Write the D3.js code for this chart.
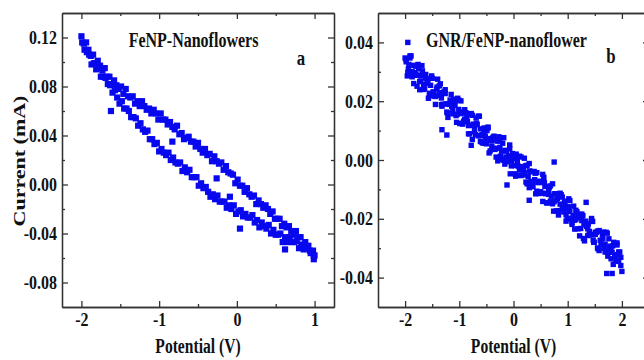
<!DOCTYPE html>
<html>
<head>
<meta charset="utf-8">
<script src="https://cdn.jsdelivr.net/npm/d3@7"></script>
<style>
  body { margin: 0; background: #fff; }
  text { font-family: "Liberation Serif", "Times New Roman", serif; font-weight: bold; fill: #111; }
</style>
</head>
<body>
<svg id="chart" width="644" height="360"></svg>
<script>
// ---- data (potential V, current mA) ----
// panel a: FeNP-nanoflowers, the two branches of the loop
var loopA_upper = [
  [-2.00,.121],[-1.97,.115],[-1.94,.116],[-1.91,.110],[-1.88,.105],[-1.85,.106],[-1.82,.099],[-1.79,.101],[-1.76,.097],[-1.73,.093],
  [-1.70,.095],[-1.67,.088],[-1.64,.088],[-1.61,.082],[-1.58,.085],[-1.55,.081],[-1.52,.078],[-1.49,.080],[-1.46,.074],[-1.43,.078],
  [-1.40,.072],[-1.37,.071],[-1.34,.072],[-1.31,.066],[-1.28,.068],[-1.25,.064],[-1.22,.068],[-1.19,.064],[-1.16,.061],[-1.13,.062],
  [-1.10,.058],[-1.07,.061],[-1.04,.058],[-1.01,.053],[-0.98,.058],[-0.95,.053],[-0.92,.053],[-0.89,.049],[-0.86,.051],[-0.83,.047],
  [-0.80,.045],[-0.77,.048],[-0.74,.041],[-0.71,.042],[-0.68,.037],[-0.65,.038],[-0.62,.039],[-0.59,.035],[-0.56,.035],[-0.53,.031],
  [-0.50,.034],[-0.47,.029],[-0.44,.026],[-0.41,.029],[-0.38,.024],[-0.35,.025],[-0.32,.019],[-0.29,.023],[-0.26,.019],[-0.23,.017],
  [-0.20,.018],[-0.17,.012],[-0.14,.015],[-0.11,.010],[-0.08,.009],[-0.05,.008],[-0.02,.001],[0.01,.004],[0.04,-.001],[0.07,-.001],
  [0.10,-.006],[0.13,-.003],[0.16,-.008],[0.19,-.010],[0.22,-.009],[0.25,-.016],[0.28,-.013],[0.31,-.016],[0.34,-.019],[0.37,-.017],
  [0.40,-.020],[0.43,-.024],[0.46,-.022],[0.49,-.028],[0.52,-.028],[0.55,-.028],[0.58,-.034],[0.61,-.032],[0.64,-.035],[0.67,-.034],
  [0.70,-.038],[0.73,-.041],[0.76,-.038],[0.79,-.043],[0.82,-.043],[0.85,-.050],[0.88,-.047],[0.91,-.051],[0.94,-.054],[0.97,-.055],
  [0.99,-.058]
];
var loopA_lower = [
  [-1.99,.116],[-1.96,.110],[-1.93,.108],[-1.90,.106],[-1.87,.098],[-1.84,.099],[-1.81,.094],[-1.78,.095],[-1.75,.088],[-1.72,.088],
  [-1.69,.087],[-1.66,.082],[-1.63,.081],[-1.60,.075],[-1.57,.077],[-1.54,.071],[-1.51,.066],[-1.48,.068],[-1.45,.062],[-1.42,.062],
  [-1.39,.060],[-1.36,.055],[-1.33,.055],[-1.30,.054],[-1.27,.048],[-1.24,.050],[-1.21,.045],[-1.18,.043],[-1.15,.044],[-1.12,.037],
  [-1.09,.037],[-1.06,.033],[-1.03,.034],[-1.00,.027],[-0.97,.029],[-0.94,.026],[-0.91,.024],[-0.88,.026],[-0.85,.020],[-0.82,.022],
  [-0.79,.018],[-0.76,.017],[-0.73,.018],[-0.70,.011],[-0.67,.014],[-0.64,.010],[-0.61,.012],[-0.58,.006],[-0.55,.006],[-0.52,.006],
  [-0.49,-.001],[-0.46,.001],[-0.43,-.003],[-0.40,-.002],[-0.37,-.006],[-0.34,-.010],[-0.31,-.008],[-0.28,-.012],[-0.25,-.009],[-0.22,-.014],
  [-0.19,-.014],[-0.16,-.014],[-0.13,-.019],[-0.10,-.017],[-0.07,-.020],[-0.04,-.017],[-0.01,-.024],[0.02,-.022],[0.05,-.021],[0.08,-.026],
  [0.11,-.024],[0.14,-.027],[0.17,-.027],[0.20,-.025],[0.23,-.031],[0.26,-.029],[0.29,-.035],[0.32,-.031],[0.35,-.034],[0.38,-.036],
  [0.41,-.033],[0.44,-.040],[0.47,-.037],[0.50,-.041],[0.53,-.041],[0.56,-.040],[0.59,-.047],[0.62,-.043],[0.65,-.047],[0.68,-.043],
  [0.71,-.047],[0.74,-.047],[0.77,-.046],[0.80,-.052],[0.83,-.049],[0.86,-.053],[0.89,-.052],[0.92,-.050],[0.95,-.056],[0.98,-.054],
  [1.00,-.058],[0.99,-.061]
];
var loopA_stray = [[-1.62,.060],[-0.83,.035],[-0.26,.005],[-0.09,-.010],[0.04,-.036],[0.62,-.053]];

// panel b: GNR/FeNP-nanoflower, three overlapping scans
var scanB_fwd = [
  [-2.00,.0347],[-1.96,.0286],[-1.93,.0325],[-1.89,.0354],[-1.86,.0288],[-1.82,.0297],[-1.78,.0251],[-1.75,.0310],[-1.71,.0269],[-1.68,.0303],
  [-1.64,.0242],[-1.60,.0276],[-1.57,.0210],[-1.53,.0254],[-1.50,.0278],[-1.46,.0217],[-1.42,.0241],[-1.39,.0220],[-1.35,.0259],[-1.32,.0183],
  [-1.28,.0232],[-1.24,.0191],[-1.21,.0145],[-1.17,.0204],[-1.14,.0183],[-1.10,.0207],[-1.06,.0151],[-1.03,.0210],[-0.99,.0124],[-0.96,.0163],
  [-0.92,.0132],[-0.88,.0161],[-0.85,.0130],[-0.81,.0089],[-0.78,.0158],[-0.74,.0122],[-0.70,.0086],[-0.67,.0120],[-0.63,.0149],[-0.60,.0083],
  [-0.56,.0057],[-0.52,.0081],[-0.49,.0100],[-0.45,.0024],[-0.42,.0073],[-0.38,.0077],[-0.34,.0036],[-0.31,.0040],[-0.27,.0079],[-0.24,.0013],
  [-0.20,.0057],[-0.16,-.0014],[-0.13,.0030],[-0.09,.0014],[-0.06,-.0047],[-0.02,.0022],[0.02,-.0019],[0.05,.0020],[0.09,-.0021],[0.12,-.0052],
  [0.16,-.0023],[0.20,.0006],[0.23,-.0075],[0.27,-.0056],[0.30,-.0037],[0.34,-.0078],[0.38,-.0039],[0.41,-.0115],[0.45,-.0076],[0.48,-.0072],
  [0.52,-.0113],[0.56,-.0059],[0.59,-.0115],[0.63,-.0146],[0.66,-.0092],[0.70,-.0123],[0.74,-.0174],[0.77,-.0115],[0.81,-.0131],[0.84,-.0172],
  [0.88,-.0118],[0.92,-.0164],[0.95,-.0150],[0.99,-.0201],[1.02,-.0132],[1.06,-.0198],[1.10,-.0189],[1.13,-.0235],[1.17,-.0176],[1.20,-.0197],
  [1.24,-.0233],[1.28,-.0189],[1.31,-.0275],[1.35,-.0226],[1.38,-.0217],[1.42,-.0253],[1.46,-.0209],[1.49,-.0280],[1.53,-.0246],[1.56,-.0302],
  [1.60,-.0273],[1.64,-.0254],[1.67,-.0300],[1.71,-.0246],[1.74,-.0327],[1.78,-.0293],[1.82,-.0314],[1.85,-.0280],[1.89,-.0341],[1.92,-.0322],
  [1.96,-.0313],[2.00,-.0379]
];
var scanB_rev = [
  [1.98,-.0359],[1.94,-.0313],[1.91,-.0282],[1.87,-.0326],[1.84,-.0355],[1.80,-.0299],[1.76,-.0268],[1.73,-.0312],[1.69,-.0286],[1.66,-.0245],
  [1.62,-.0289],[1.58,-.0308],[1.55,-.0242],[1.51,-.0246],[1.48,-.0280],[1.44,-.0199],[1.40,-.0243],[1.37,-.0257],[1.33,-.0211],[1.30,-.0220],
  [1.26,-.0184],[1.22,-.0258],[1.19,-.0192],[1.15,-.0171],[1.12,-.0205],[1.08,-.0219],[1.04,-.0138],[1.01,-.0167],[0.97,-.0186],[0.94,-.0140],
  [0.90,-.0164],[0.86,-.0113],[0.83,-.0187],[0.79,-.0136],[0.76,-.0115],[0.72,-.0149],[0.68,-.0088],[0.65,-.0117],[0.61,-.0146],[0.58,-.0090],
  [0.54,-.0049],[0.50,-.0108],[0.47,-.0077],[0.43,-.0106],[0.40,-.0045],[0.36,-.0074],[0.32,-.0073],[0.29,-.0012],[0.25,-.0081],[0.22,-.0020],
  [0.18,-.0034],[0.14,-.0053],[0.11,.0013],[0.07,-.0006],[0.04,-.0055],[0.00,.0011],[-0.04,-.0003],[-0.07,.0038],[-0.11,-.0006],[-0.14,.0010],
  [-0.18,.0076],[-0.22,.0002],[-0.25,.0043],[-0.29,.0064],[-0.32,.0010],[-0.36,.0081],[-0.40,.0047],[-0.43,.0068],[-0.47,.0109],[-0.50,.0055],
  [-0.54,.0096],[-0.58,.0087],[-0.61,.0063],[-0.65,.0149],[-0.68,.0125],[-0.72,.0096],[-0.76,.0152],[-0.79,.0118],[-0.83,.0089],[-0.86,.0145],
  [-0.90,.0171],[-0.94,.0122],[-0.97,.0158],[-1.01,.0204],[-1.04,.0155],[-1.08,.0186],[-1.12,.0157],[-1.15,.0223],[-1.19,.0189],[-1.22,.0160],
  [-1.26,.0226],[-1.30,.0227],[-1.33,.0188],[-1.37,.0229],[-1.40,.0275],[-1.44,.0216],[-1.48,.0232],[-1.51,.0278],[-1.55,.0219],[-1.58,.0260],
  [-1.62,.0291],[-1.66,.0257],[-1.69,.0288],[-1.73,.0239],[-1.76,.0325],[-1.80,.0291],[-1.84,.0322],[-1.87,.0283],[-1.91,.0354],[-1.94,.0310],
  [-1.98,.0341]
];
var scanB_mid = [
  [-1.98,.0334],[-1.95,.0298],[-1.91,.0347],[-1.87,.0301],[-1.84,.0260],[-1.80,.0319],[-1.77,.0288],[-1.73,.0267],[-1.69,.0321],[-1.66,.0240],
  [-1.62,.0279],[-1.59,.0263],[-1.55,.0227],[-1.51,.0286],[-1.48,.0230],[-1.44,.0189],[-1.41,.0248],[-1.37,.0252],[-1.33,.0211],[-1.30,.0190],
  [-1.26,.0239],[-1.23,.0163],[-1.19,.0192],[-1.15,.0201],[-1.12,.0170],[-1.08,.0199],[-1.05,.0128],[-1.01,.0172],[-0.97,.0201],[-0.94,.0125],
  [-0.90,.0139],[-0.87,.0158],[-0.83,.0117],[-0.79,.0156],[-0.76,.0070],[-0.72,.0114],[-0.69,.0143],[-0.65,.0082],[-0.61,.0106],[-0.58,.0060],
  [-0.54,.0109],[-0.51,.0068],[-0.47,.0112],[-0.43,.0031],[-0.40,.0065],[-0.36,.0039],[-0.33,.0068],[-0.29,-.0003],[-0.25,.0066],[-0.22,.0030],
  [-0.18,-.0001],[-0.15,.0033],[-0.11,.0007],[-0.07,.0051],[-0.04,-.0020],[0.00,.0004],[0.03,-.0047],[0.07,.0007],[0.11,-.0034],[0.14,.0010],
  [0.18,-.0051],[0.21,-.0042],[0.25,-.0018],[0.29,-.0094],[0.32,-.0040],[0.36,-.0091],[0.39,-.0067],[0.43,-.0043],[0.47,-.0114],[0.50,-.0075],
  [0.54,-.0141],[0.57,-.0077],[0.61,-.0113],[0.65,-.0104],[0.68,-.0140],[0.72,-.0081],[0.75,-.0142],[0.79,-.0173],[0.83,-.0124],[0.86,-.0150],
  [0.90,-.0126],[0.93,-.0177],[0.97,-.0208],[1.01,-.0159],[1.04,-.0175],[1.08,-.0211],[1.11,-.0157],[1.15,-.0203],[1.19,-.0234],[1.22,-.0185],
  [1.26,-.0206],[1.29,-.0267],[1.33,-.0208],[1.37,-.0234],[1.40,-.0255],[1.44,-.0206],[1.47,-.0272],[1.51,-.0253],[1.55,-.0299],[1.58,-.0240],
  [1.62,-.0286],[1.65,-.0267],[1.69,-.0313],[1.73,-.0249],[1.76,-.0300],[1.80,-.0336],[1.83,-.0292],[1.87,-.0323],[1.91,-.0289],[1.94,-.0345],
  [1.98,-.0331]
];
var scanB_stray = [[-1.95,.0400],[-1.32,.0103],[-1.23,.0085],[-0.78,.0050],[-0.12,-.0085],[0.29,-.0137],[0.75,-.0007],[1.34,-.0144],[1.72,-.0386],[1.82,-.0386]];

// ticks
var xTicksA = [-2,-1,0,1],            xMinorA = [-1.5,-0.5,0.5];
var yTicksA = [-0.08,-0.04,0,0.04,0.08,0.12], yMinorA = [-0.06,-0.02,0.02,0.06,0.10];
var xTicksB = [-2,-1,0,1,2],          xMinorB = [-1.5,-0.5,0.5,1.5];
var yTicksB = [-0.04,-0.02,0,0.02,0.04],      yMinorB = [-0.03,-0.01,0.01,0.03];

var svg = d3.select("#chart");
var top_ = 13, bottom_ = 307;
var dotColor = "#0808ee", axisColor = "#333";

function drawPanel(p) {
  var x = d3.scaleLinear().domain(p.xDomain).range([p.left, p.right]);
  var y = d3.scaleLinear().domain(p.yDomain).range([bottom_, top_]);
  var g = svg.append("g");
  var s2 = p.dot / 2;

  // scatter squares
  p.series.forEach(function(s) {
    g.append("g").selectAll("rect").data(s).join("rect")
      .attr("x", function(d){ return x(d[0]) - s2; })
      .attr("y", function(d){ return y(d[1]) - s2; })
      .attr("width", p.dot).attr("height", p.dot)
      .attr("fill", dotColor);
  });

  function axis(gen, tx, ty, size, vals, fmt, pad) {
    var a = gen.tickValues(vals).tickSize(size).tickSizeOuter(0).tickPadding(pad || 3)
               .tickFormat(fmt || "");
    var ga = g.append("g").attr("transform", "translate(" + tx + "," + ty + ")").call(a);
    ga.attr("font-family", null).attr("font-size", null);
    ga.selectAll("path,line").attr("stroke", axisColor).attr("stroke-width", 1.3);
    ga.selectAll("text").style("font-size", "19px").attr("fill", "#111")
      .attr("transform", "scale(0.84,1)");
    return ga;
  }
  var fx = function(d){ return String(d); };
  var fy = function(d){ return d.toFixed(2); };

  // bottom / top
  axis(d3.axisBottom(x), 0, bottom_, -6, p.xTicks, fx, 6);
  axis(d3.axisBottom(x), 0, bottom_, -3, p.xMinor);
  axis(d3.axisTop(x), 0, top_, -6, p.xTicks);
  axis(d3.axisTop(x), 0, top_, -3, p.xMinor);
  // left / right
  axis(d3.axisLeft(y), p.left, 0, -6, p.yTicks, fy, 6);
  axis(d3.axisLeft(y), p.left, 0, -3, p.yMinor);
  axis(d3.axisRight(y), p.right, 0, -6, p.yTicks);
  axis(d3.axisRight(y), p.right, 0, -3, p.yMinor);

  // x title
  g.append("text")
    .attr("transform", "translate(" + ((p.left + p.right) / 2) + ",353) scale(0.78,1)")
    .attr("text-anchor", "middle").style("font-size", "20px")
    .text("Potential (V)");
  // panel caption and letter
  g.append("text")
    .attr("transform", "translate(" + p.titleX + ",46.5) scale(0.8,1)")
    .attr("text-anchor", "middle").style("font-size", "20px")
    .text(p.title);
  g.append("text")
    .attr("transform", "translate(" + p.letterX + "," + p.letterY + ") scale(0.8,1)")
    .attr("text-anchor", "middle").style("font-size", "21px")
    .text(p.letter);
}

drawPanel({
  left: 62, right: 334, xDomain: [-2.25, 1.25], yDomain: [-0.1, 0.14],
  xTicks: xTicksA, xMinor: xMinorA, yTicks: yTicksA, yMinor: yMinorA,
  series: [loopA_upper, loopA_lower, loopA_stray], dot: 6.2,
  title: "FeNP-Nanoflowers", titleX: 193.5, letter: "a", letterX: 301, letterY: 65
});
drawPanel({
  left: 378, right: 649, xDomain: [-2.5, 2.5], yDomain: [-0.05, 0.05],
  xTicks: xTicksB, xMinor: xMinorB, yTicks: yTicksB, yMinor: yMinorB,
  series: [scanB_fwd, scanB_rev, scanB_mid, scanB_stray], dot: 5.4,
  title: "GNR/FeNP-nanoflower", titleX: 506.5, letter: "b", letterX: 611, letterY: 63
});

// y title (only on the left panel)
svg.append("text")
  .attr("transform", "translate(25,161) scale(0.8,1) rotate(-90)")
  .attr("text-anchor", "middle").style("font-size", "22px")
  .text("Current (mA)");
</script>
</body>
</html>
